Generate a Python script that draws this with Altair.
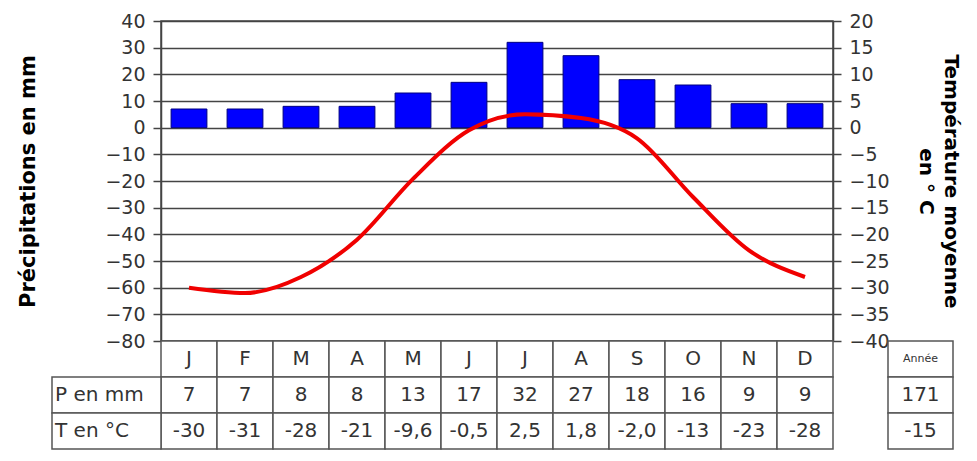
import altair as alt
import pandas as pd

# ---- data ----
month_letters = ["J", "F", "M", "A", "M", "J", "J", "A", "S", "O", "N", "D"]
precip_mm = [7, 7, 8, 8, 13, 17, 32, 27, 18, 16, 9, 9]
temp_c = [-30, -31, -28, -21, -9.6, -0.5, 2.5, 1.8, -2.0, -13, -23, -28]
row_keys = ["mois", "P", "T"]
row_labels = ["P en mm", "T en °C"]
annee_header = "Année"

W, H = 672, 320
TABLE_BOTTOM = H + 108
FONT = "DejaVu Sans"
GRID = "#444444"
TXT = "#333333"


def fmt_temp(v):
    s = f"{v:.1f}" if abs(v) < 10 else f"{v:.0f}"
    return s.replace(".", ",")


idx = list(range(1, 13))
df = pd.DataFrame({"m": idx, "letter": month_letters, "P": precip_mm, "T": temp_c})

cells = []
for i, l, p, t in zip(idx, month_letters, precip_mm, temp_c):
    cells.append({"m": i, "row": "mois", "txt": l})
    cells.append({"m": i, "row": "P", "txt": str(p)})
    cells.append({"m": i, "row": "T", "txt": fmt_temp(t)})
cells_df = pd.DataFrame(cells)

lab_df = pd.DataFrame({"col": ["lab", "lab"], "row": ["P", "T"], "txt": row_labels})
annee_df = pd.DataFrame({
    "col": ["an"] * 3,
    "row": row_keys,
    "txt": [annee_header, str(sum(precip_mm)), f"{sum(temp_c) / 12:.0f}"],
})

row_scale = alt.Scale(domain=row_keys, range=[H, TABLE_BOTTOM], paddingInner=0, paddingOuter=0)

# ---- main plot ----
bars = alt.Chart(df).mark_bar(color="#0000ff", stroke="#000080", strokeWidth=1).encode(
    x=alt.X("m:O", axis=None, scale=alt.Scale(paddingInner=0.36, paddingOuter=0.18)),
    y=alt.Y(
        "P:Q",
        scale=alt.Scale(domain=[-80, 40], nice=False, zero=False),
        axis=alt.Axis(
            orient="left",
            values=list(range(-80, 41, 10)),
            title="Précipitations en mm",
            titleFont=FONT, titleFontSize=21, titleFontWeight="bold", titleColor="#000",
            titlePadding=66,
            labelFont=FONT, labelFontSize=19, labelColor=TXT, labelPadding=8,
            tickSize=8, tickColor=GRID, tickWidth=1.5,
            domainColor=GRID, domainWidth=1.5,
            grid=True, gridColor=GRID, gridWidth=1.5, gridOpacity=1,
        ),
    ),
)

line = alt.Chart(df).mark_line(color="#f00000", strokeWidth=4, interpolate="monotone").encode(
    x=alt.X("m:O", axis=None, scale=alt.Scale(type="point", padding=0.5)),
    y=alt.Y(
        "T:Q",
        scale=alt.Scale(domain=[-40, 20], nice=False, zero=False),
        axis=alt.Axis(
            orient="right",
            values=list(range(-40, 21, 5)),
            title=["Température moyenne", "en ° C"],
            titleFont=FONT, titleFontSize=20, titleFontWeight="bold", titleColor="#000",
            titleLineHeight=25, titlePadding=26,
            labelFont=FONT, labelFontSize=19, labelColor=TXT, labelPadding=8,
            tickSize=8, tickColor=GRID, tickWidth=1.5,
            domainColor=GRID, domainWidth=1.5,
            grid=False,
        ),
    ),
)

# ---- table under plot ----
cell_rect = alt.Chart(cells_df).mark_rect(fill="white", stroke="#555555", strokeWidth=1.5).encode(
    x=alt.X("m:O", axis=None, scale=alt.Scale(range=[0, W], paddingInner=0, paddingOuter=0)),
    y=alt.Y("row:O", axis=None, scale=row_scale),
)
cell_text = alt.Chart(cells_df).mark_text(font=FONT, fontSize=20, color=TXT).encode(
    x=alt.X("m:O", axis=None, bandPosition=0.5),
    y=alt.Y("row:O", axis=None, bandPosition=0.5),
    text="txt:N",
)
month_table = alt.layer(cell_rect, cell_text)

lab_rect = alt.Chart(lab_df).mark_rect(fill="white", stroke="#555555", strokeWidth=1.5).encode(
    x=alt.X("col:N", axis=None, scale=alt.Scale(range=[-109, 0], paddingInner=0, paddingOuter=0)),
    y=alt.Y("row:O", axis=None, scale=row_scale),
)
lab_text = alt.Chart(lab_df).mark_text(font=FONT, fontSize=20, color=TXT, align="left", dx=3).encode(
    x=alt.X("col:N", axis=None, bandPosition=0),
    y=alt.Y("row:O", axis=None, bandPosition=0.5),
    text="txt:N",
)
label_table = alt.layer(lab_rect, lab_text)

an_rect = alt.Chart(annee_df).mark_rect(fill="white", stroke="#555555", strokeWidth=1.5).encode(
    x=alt.X("col:N", axis=None, scale=alt.Scale(range=[727, 792], paddingInner=0, paddingOuter=0)),
    y=alt.Y("row:O", axis=None, scale=row_scale),
)
an_vals = alt.Chart(annee_df).transform_filter("datum.row != 'mois'").mark_text(
    font=FONT, fontSize=20, color=TXT
).encode(
    x=alt.X("col:N", axis=None, bandPosition=0.5),
    y=alt.Y("row:O", axis=None, bandPosition=0.5),
    text="txt:N",
)
an_head = alt.Chart(annee_df).transform_filter("datum.row == 'mois'").mark_text(
    font=FONT, fontSize=11, color=TXT
).encode(
    x=alt.X("col:N", axis=None, bandPosition=0.5),
    y=alt.Y("row:O", axis=None, bandPosition=0.5),
    text="txt:N",
)
annee_table = alt.layer(an_rect, an_vals, an_head)

chart = alt.layer(bars, line, month_table, label_table, annee_table).resolve_scale(
    x="independent", y="independent"
).properties(
    width=W, height=H,
    autosize=alt.AutoSizeParams(type="none"),
    padding={"left": 153, "top": 13, "right": 135, "bottom": 110},
    background="white",
).configure_view(stroke=GRID, strokeWidth=1.5)

chart.save("out.html", embed_options={"renderer": "svg", "actions": False})
